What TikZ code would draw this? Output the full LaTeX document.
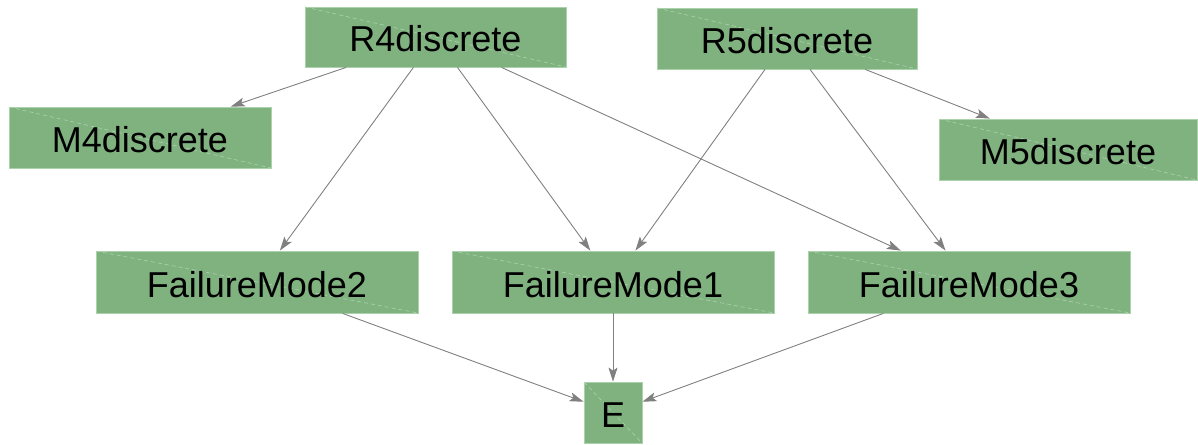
\documentclass[tikz,border=0pt]{standalone}
\usepackage{fontspec}
\setmainfont{Liberation Sans}
\usetikzlibrary{arrows.meta}
\definecolor{boxfill}{RGB}{128,178,128}
\definecolor{boxline}{RGB}{172,210,172}
\definecolor{edgecol}{RGB}{128,128,128}
\tikzset{
  bnbox/.style={rectangle, fill=boxfill, draw=boxline, line width=0.8pt, inner sep=0pt,
    font=\fontsize{36}{40}\selectfont, text=black, text height=30pt, text depth=0pt,
    path picture={\draw[boxline, dashed, dash pattern=on 4pt off 3pt, line width=0.6pt]
      (path picture bounding box.north west) -- (path picture bounding box.south east);}},
  bnedge/.style={draw=edgecol, line width=0.9pt, -{Stealth[length=14pt,width=9pt,inset=3pt]}}
}
\begin{document}
\begin{tikzpicture}[x=1pt,y=-1pt]
\useasboundingbox (0,0) rectangle (1198,444);
\node[bnbox, minimum width=261pt, minimum height=60pt] (R4) at (435.5,37) {R4discrete};
\node[bnbox, minimum width=260pt, minimum height=61pt] (R5) at (787,38.5) {R5discrete};
\node[bnbox, minimum width=262pt, minimum height=61pt] (M4) at (140,137.5) {M4discrete};
\node[bnbox, minimum width=258pt, minimum height=61pt] (M5) at (1068,149.5) {M5discrete};
\node[bnbox, minimum width=322pt, minimum height=62pt] (FM2) at (257,282) {FailureMode2};
\node[bnbox, minimum width=322pt, minimum height=62pt] (FM1) at (613,282) {FailureMode1};
\node[bnbox, minimum width=322pt, minimum height=62pt] (FM3) at (969,282) {FailureMode3};
\node[bnbox, minimum width=58pt, minimum height=61pt] (E) at (613,412.5) {E};
\draw[bnedge] (R4) -- (M4);
\draw[bnedge] (R4) -- (FM2);
\draw[bnedge] (R4) -- (FM1);
\draw[bnedge] (R4) -- (FM3);
\draw[bnedge] (R5) -- (FM1);
\draw[bnedge] (R5) -- (FM3);
\draw[bnedge] (R5) -- (M5);
\draw[bnedge] (FM2) -- (E);
\draw[bnedge] (FM1) -- (E);
\draw[bnedge] (FM3) -- (E);
\end{tikzpicture}
\end{document}
